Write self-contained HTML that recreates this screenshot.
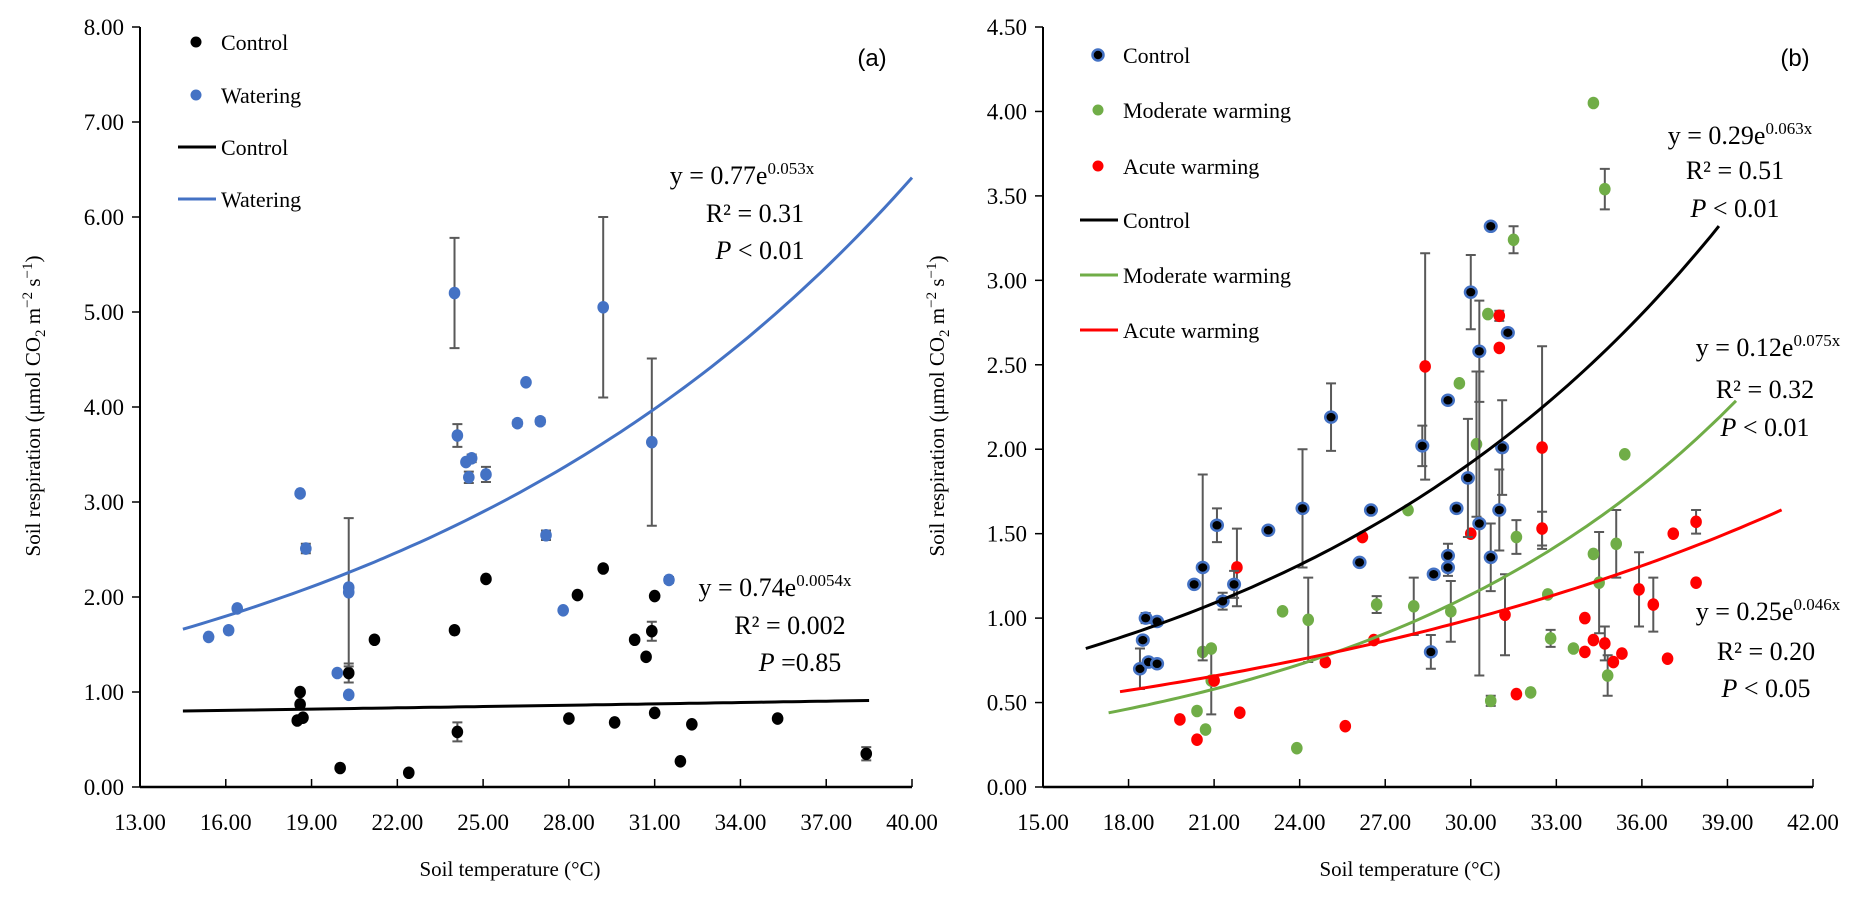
<!DOCTYPE html>
<html><head><meta charset="utf-8"><style>
html,body{margin:0;padding:0;background:#fff;}
svg{display:block;font-family:"Liberation Serif",serif;}
</style></head><body>
<svg id="chart" width="1870" height="901" viewBox="0 0 1870 901"></svg>
<script>
// ---------- Panel (a) data ----------
const aCtrlX = [18.5,18.6,18.6,18.7,20.0,20.3,21.2,22.4,24.0,24.1,25.1,28.0,28.3,29.2,29.6,30.3,30.7,30.9,31.0,31.0,31.9,32.3,35.3,38.4];
const aCtrlY = [0.70,0.87,1.00,0.73,0.20,1.20,1.55,0.15,1.65,0.58,2.19,0.72,2.02,2.30,0.68,1.55,1.37,1.64,2.01,0.78,0.27,0.66,0.72,0.35];
const aCtrlE = [0,0,0,0,0,0.10,0,0,0,0.10,0,0,0,0,0,0,0,0.10,0,0,0,0,0,0.07];
const aWatX = [15.4,16.1,16.4,18.6,18.8,19.9,20.3,20.3,20.3,24.0,24.1,24.4,24.5,24.6,25.1,26.2,26.5,27.0,27.2,27.8,29.2,30.9,31.5];
const aWatY = [1.58,1.65,1.88,3.09,2.51,1.20,2.05,2.10,0.97,5.20,3.70,3.42,3.26,3.46,3.29,3.83,4.26,3.85,2.65,1.86,5.05,3.63,2.18];
const aWatE = [0,0,0,0,0.05,0,0.78,0,0,0.58,0.12,0,0.06,0.04,0.08,0.03,0,0.03,0.05,0,0.95,0.88,0.03];
const aXTicks = [13,16,19,22,25,28,31,34,37,40];
const aYTicks = [0,1,2,3,4,5,6,7,8];
const aFitCtrl = [0.74,0.0054,14.5,38.5];
const aFitWat = [0.77,0.053,14.5,40];

// ---------- Panel (b) data ----------
const bCtrlX = [18.4,18.5,18.6,18.7,19.0,19.0,20.3,20.6,21.1,21.3,21.7,22.9,24.1,25.1,26.1,26.5,28.3,28.6,28.7,29.2,29.2,29.2,29.5,29.9,30.0,30.3,30.3,30.7,30.7,31.0,31.1,31.3];
const bCtrlY = [0.70,0.87,1.00,0.74,0.98,0.73,1.20,1.30,1.55,1.10,1.20,1.52,1.65,2.19,1.33,1.64,2.02,0.80,1.26,2.29,1.30,1.37,1.65,1.83,2.93,2.58,1.56,3.32,1.36,1.64,2.01,2.69];
const bCtrlE = [0.12,0,0.03,0,0,0,0,0.55,0.10,0.05,0.08,0,0.35,0.20,0,0,0.12,0.10,0,0,0.05,0.07,0,0.35,0.22,0.30,0.90,0,0.20,0.24,0.28,0];
const bModX = [20.4,20.6,20.7,20.9,20.9,23.4,23.9,24.3,26.7,27.8,28.0,29.3,29.6,30.2,30.6,30.7,31.5,31.6,32.1,32.7,32.8,33.6,34.3,34.3,34.5,34.7,34.8,35.1,35.4];
const bModY = [0.45,0.80,0.34,0.82,0.63,1.04,0.23,0.99,1.08,1.64,1.07,1.04,2.39,2.03,2.80,0.51,3.24,1.48,0.56,1.14,0.88,0.82,1.38,4.05,1.21,3.54,0.66,1.44,1.97];
const bModE = [0,0,0,0,0.20,0,0,0.25,0.05,0,0.17,0.18,0,0.43,0,0.03,0.08,0.10,0,0,0.05,0,0,0,0.30,0.12,0.12,0.20,0];
const bAcuX = [19.8,20.4,21.0,21.8,21.9,24.9,25.6,26.2,26.6,28.4,30.0,31.0,31.0,31.2,31.6,32.5,32.5,34.0,34.0,34.3,34.7,35.0,35.3,35.9,36.4,36.9,37.1,37.9,37.9];
const bAcuY = [0.40,0.28,0.63,1.30,0.44,0.74,0.36,1.48,0.87,2.49,1.50,2.79,2.60,1.02,0.55,2.01,1.53,1.00,0.80,0.87,0.85,0.74,0.79,1.17,1.08,0.76,1.50,1.21,1.57];
const bAcuE = [0,0,0,0.23,0,0,0,0,0,0.67,0,0.03,0,0.24,0,0.60,0.10,0,0,0,0.10,0,0,0.22,0.16,0,0,0,0.07];
const bXTicks = [15,18,21,24,27,30,33,36,39,42];
const bYTicks = [0,0.5,1,1.5,2,2.5,3,3.5,4,4.5];
const bFitCtrl = [0.29,0.063,16.5,38.7];
const bFitMod = [0.12,0.075,17.3,39.3];
const bFitAcu = [0.25,0.046,17.7,40.9];

const NS = 'http://www.w3.org/2000/svg';
const svg = document.getElementById('chart');
function mk(tag, attrs, parent, text){
  const e = document.createElementNS(NS, tag);
  for (const k in attrs) e.setAttribute(k, attrs[k]);
  if (text !== undefined) e.textContent = text;
  (parent || svg).appendChild(e);
  return e;
}
function scale(d0,d1,r0,r1){ return v => r0 + (v-d0)/(d1-d0)*(r1-r0); }

const aX = scale(13,40,140,912), aY = scale(0,8,787,27);
const bX = scale(15,42,1043,1813), bY = scale(0,4.5,787,27);

function axes(g, xs, ys, xT, yT, x0, x1, y0, y1){
  const ax = mk('g', {}, g);
  
  
  mk('line', {x1:xs(x0), y1:ys(y0), x2:xs(x1), y2:ys(y0), stroke:'#000', 'stroke-width':2.5}, ax);
  mk('line', {x1:xs(x0), y1:ys(y0), x2:xs(x0), y2:ys(y1), stroke:'#000', 'stroke-width':2}, ax);
  xT.forEach(v => {
    mk('line', {x1:xs(v), y1:ys(y0), x2:xs(v), y2:ys(y0)-8, stroke:'#000', 'stroke-width':1.5}, ax);
    const t = mk('text', {x:xs(v), y:830, 'font-size':23, 'text-anchor':'middle'}, ax, v.toFixed(2));
    
    
  });
  yT.forEach(v => {
    mk('line', {x1:xs(x0), y1:ys(v), x2:xs(x0)-8, y2:ys(v), stroke:'#000', 'stroke-width':1.5}, ax);
    const t = mk('text', {x:xs(x0)-16, y:ys(v)+8, 'font-size':23, 'text-anchor':'end'}, ax, v.toFixed(2));
    
    
  });
}
function fit(g, xs, ys, p, color, name){
  let d = '';
  for (let i = 0; i <= 80; i++){
    const x = p[2] + (p[3]-p[2])*i/80;
    d += (i ? 'L' : 'M') + xs(x).toFixed(1) + ' ' + ys(p[0]*Math.exp(p[1]*x)).toFixed(1);
  }
  const e = mk('path', {d:d, fill:'none', stroke:color, 'stroke-width':3}, g);
  
  
}
function points(g, xs, ys, X, Y, E, fill, stroke, name){
  const gg = mk('g', {}, g);
  
  
  X.forEach((x,i) => {
    if (E[i] > 0){
      const px = xs(x), top = ys(Y[i]+E[i]), bot = ys(Y[i]-E[i]);
      mk('path', {d:`M${px} ${top}V${bot}M${px-5} ${top}H${px+5}M${px-5} ${bot}H${px+5}`, stroke:'#595959', 'stroke-width':2, fill:'none'}, gg);
    }
  });
  X.forEach((x,i) => {
    const c = mk('ellipse', {cx:xs(x), cy:ys(Y[i]), rx:5.8, ry:stroke?5.5:6.3, fill:fill}, gg);
    if (stroke){ c.setAttribute('stroke', stroke); c.setAttribute('stroke-width', 2.5); }
    
    
  });
}
function text(g, x, y, size, str, anchor, name, fam){
  const t = mk('text', {x:x, y:y, 'font-size':size, 'text-anchor':anchor||'start'}, g);
  if (fam) t.setAttribute('font-family', fam);
  t.innerHTML = str;
  
  
  return t;
}
function ytitle(g, x){
  const t = mk('text', {x:0, y:0, 'font-size':21, 'text-anchor':'middle', transform:`translate(${x},406) rotate(-90)`}, g);
  t.innerHTML = 'Soil respiration (μmol CO<tspan dy="5" font-size="15">2</tspan><tspan dy="-5"> m</tspan><tspan dy="-8" font-size="15">−2</tspan><tspan dy="8"> s</tspan><tspan dy="-8" font-size="15">−1</tspan><tspan dy="8">)</tspan>';
  
  
}
function legendDot(g, y, fill, stroke, label){
  const c = mk('circle', {cx:g.lx+18, cy:y, r:5.5, fill:fill}, g.el);
  if (stroke){ c.setAttribute('stroke', stroke); c.setAttribute('stroke-width', 2.5); }
  
  
  text(g.el, g.lx+43, y+8, 22, label, 'start', 'legend-entry');
}
function legendLine(g, y, color, label){
  const l = mk('line', {x1:g.lx, y1:y, x2:g.lx+38, y2:y, stroke:color, 'stroke-width':3}, g.el);
  
  
  text(g.el, g.lx+43, y+8, 22, label, 'start', 'legend-entry');
}

// ===== Panel A =====
const gA = mk('g', {});  
axes(gA, aX, aY, aXTicks, aYTicks, 13, 40, 0, 8);
points(gA, aX, aY, aCtrlX, aCtrlY, aCtrlE, '#000', null, 'control-series');
points(gA, aX, aY, aWatX, aWatY, aWatE, '#4472C4', null, 'watering-series');
fit(gA, aX, aY, aFitCtrl, '#000', 'control-fit-line');
fit(gA, aX, aY, aFitWat, '#4472C4', 'watering-fit-line');
ytitle(gA, 40);
text(gA, 510, 876, 21, 'Soil temperature (°C)', 'middle', 'x-axis-title');
text(gA, 872, 66, 24, '(a)', 'middle', 'panel-label', '"Liberation Sans",sans-serif');
const LA = {el:gA, lx:178};
legendDot(LA, 42, '#000', null, 'Control');
legendDot(LA, 95, '#4472C4', null, 'Watering');
legendLine(LA, 147, '#000', 'Control');
legendLine(LA, 199, '#4472C4', 'Watering');
text(gA, 742, 184, 26, 'y = 0.77e<tspan dy="-10" font-size="17">0.053x</tspan>', 'middle', 'watering-equation');
text(gA, 755, 222, 26, 'R² = 0.31', 'middle', 'watering-r2');
text(gA, 760, 259, 26, '<tspan font-style="italic">P</tspan> &lt; 0.01', 'middle', 'watering-p');
text(gA, 775, 596, 26, 'y = 0.74e<tspan dy="-10" font-size="17">0.0054x</tspan>', 'middle', 'control-equation');
text(gA, 790, 634, 26, 'R² = 0.002', 'middle', 'control-r2');
text(gA, 800, 671, 26, '<tspan font-style="italic">P</tspan> =0.85', 'middle', 'control-p');

// ===== Panel B =====
const gB = mk('g', {});  
axes(gB, bX, bY, bXTicks, bYTicks, 15, 42, 0, 4.5);
points(gB, bX, bY, bModX, bModY, bModE, '#70AD47', null, 'moderate-warming-series');
points(gB, bX, bY, bAcuX, bAcuY, bAcuE, '#FF0000', null, 'acute-warming-series');
points(gB, bX, bY, bCtrlX, bCtrlY, bCtrlE, '#000', '#4472C4', 'control-series');
fit(gB, bX, bY, bFitCtrl, '#000', 'control-fit-line');
fit(gB, bX, bY, bFitMod, '#70AD47', 'moderate-fit-line');
fit(gB, bX, bY, bFitAcu, '#FF0000', 'acute-fit-line');
ytitle(gB, 944);
text(gB, 1410, 876, 21, 'Soil temperature (°C)', 'middle', 'x-axis-title');
text(gB, 1795, 66, 24, '(b)', 'middle', 'panel-label', '"Liberation Sans",sans-serif');
const LB = {el:gB, lx:1080};
legendDot(LB, 55, '#000', '#4472C4', 'Control');
legendDot(LB, 110, '#70AD47', null, 'Moderate warming');
legendDot(LB, 166, '#FF0000', null, 'Acute warming');
legendLine(LB, 220, '#000', 'Control');
legendLine(LB, 275, '#70AD47', 'Moderate warming');
legendLine(LB, 330, '#FF0000', 'Acute warming');
text(gB, 1740, 144, 26, 'y = 0.29e<tspan dy="-10" font-size="17">0.063x</tspan>', 'middle', 'control-equation');
text(gB, 1735, 179, 26, 'R² = 0.51', 'middle', 'control-r2');
text(gB, 1735, 217, 26, '<tspan font-style="italic">P</tspan> &lt; 0.01', 'middle', 'control-p');
text(gB, 1768, 356, 26, 'y = 0.12e<tspan dy="-10" font-size="17">0.075x</tspan>', 'middle', 'moderate-equation');
text(gB, 1765, 398, 26, 'R² = 0.32', 'middle', 'moderate-r2');
text(gB, 1765, 436, 26, '<tspan font-style="italic">P</tspan> &lt; 0.01', 'middle', 'moderate-p');
text(gB, 1768, 620, 26, 'y = 0.25e<tspan dy="-10" font-size="17">0.046x</tspan>', 'middle', 'acute-equation');
text(gB, 1766, 660, 26, 'R² = 0.20', 'middle', 'acute-r2');
text(gB, 1766, 697, 26, '<tspan font-style="italic">P</tspan> &lt; 0.05', 'middle', 'acute-p');
</script>
</body></html>
